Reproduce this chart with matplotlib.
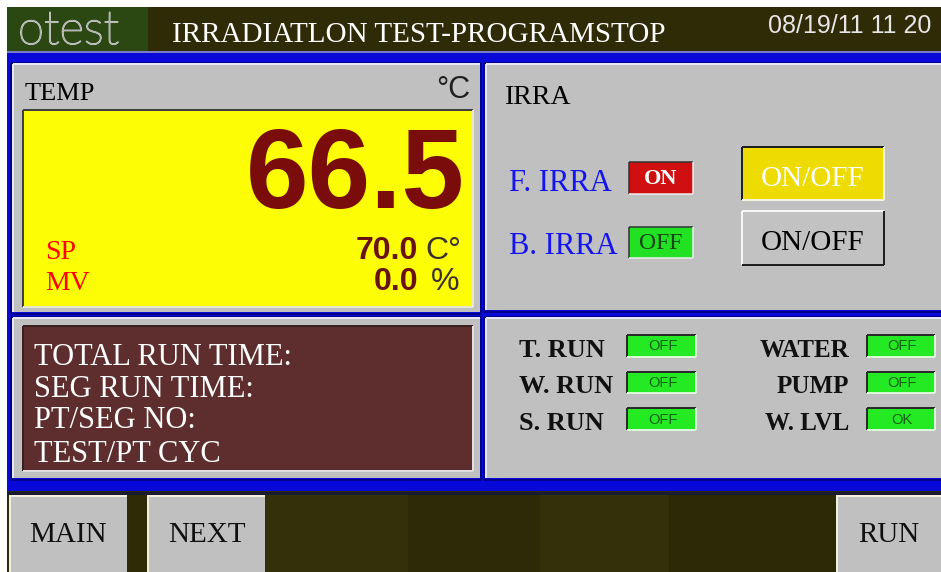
import matplotlib
matplotlib.use("Agg")
import matplotlib.pyplot as plt
from matplotlib.patches import Rectangle
import matplotlib.patheffects as pe

# ---------------- data ----------------
screen_title = "IRRADIATLON TEST-PROGRAMSTOP"
logo_text = "otest"
date_text = "08/19/11 11 20"
temp_label = "TEMP"
temp_unit = "°C"
temp_pv = 66.5
temp_sp = 70.0
temp_mv = 0.0
sp_mv_labels = ["SP", "MV"]
sp_mv_units = ["C°", "%"]
irra_title = "IRRA"
irra_labels = ["F. IRRA", "B. IRRA"]
irra_states = ["ON", "OFF"]
toggle_labels = ["ON/OFF", "ON/OFF"]
info_lines = ["TOTAL RUN TIME:", "SEG RUN TIME:", "PT/SEG NO:", "TEST/PT CYC"]
run_labels = ["T. RUN", "W. RUN", "S. RUN"]
run_states = ["OFF", "OFF", "OFF"]
aux_labels = ["WATER", "PUMP", "W. LVL"]
aux_states = ["OFF", "OFF", "OK"]
nav_buttons = ["MAIN", "NEXT", "RUN"]

# ---------------- styles ----------------
BLUE = "#0808d8"
NAVY = "#000070"
GREY = "#c0c0c0"
OLIVE = "#2f2b07"
SERIF = ["Liberation Serif", "DejaVu Serif"]
SANS = ["Liberation Sans", "DejaVu Sans"]

fig = plt.figure(figsize=(9.41, 5.72), dpi=100)
ax = fig.add_axes([0, 0, 1, 1])
ax.set_xlim(0, 941)
ax.set_ylim(572, 0)
ax.axis("off")


def rect(x0, y0, x1, y1, color, z=1):
    ax.add_patch(Rectangle((x0, y0), x1 - x0, y1 - y0, facecolor=color,
                           edgecolor="none", zorder=z))


def line(xs, ys, color, lw=1.0, z=3):
    ax.plot(xs, ys, color=color, lw=lw * 0.72, solid_capstyle="butt", zorder=z)


def bevel(x0, y0, x1, y1, tl, br, lw=1.5, z=3):
    line([x0, x1], [y0, y0], tl, lw, z)
    line([x0, x0], [y0, y1], tl, lw, z)
    line([x0, x1], [y1, y1], br, lw, z)
    line([x1, x1], [y0, y1], br, lw, z)


# background
rect(0, 0, 941, 572, "white", 0)
# header
rect(7, 7, 941, 51, OLIVE)
rect(7, 7, 148, 51, "#2b4812")
# blue frame
rect(7, 51, 941, 491, BLUE)
line([7, 941], [51.5, 51.5], "#a0a0c0", 1.5)
# bottom bar
rect(7, 491, 941, 572, OLIVE)
for (bx0, bx1, bc) in [(265, 408, "#34300a"), (408, 540, "#2d2a08"),
                       (540, 669, "#33300a"), (669, 837, "#2c2907")]:
    rect(bx0, 494, bx1, 572, bc, 1.5)
line([7, 941], [492.5, 492.5], "#1a1a30", 3)

# panels
panels = [(13, 64, 480, 312), (486, 64, 941, 310),
          (13, 318, 480, 478), (486, 318, 941, 478)]
for (x0, y0, x1, y1) in panels:
    rect(x0, y0, x1, y1, GREY, 2)
    line([x0, x1], [y0, y0], "#e6e6f4", 2)
    line([x0, x0], [y0, y1], "#e6e6f4", 2)
    bevel(x0 - 1.5, y0 - 1.5, x1 + 1.5, y1 + 1.5, NAVY, NAVY, 1.5, 2.5)

# ---- header text ----
ax.text(18, 44, logo_text, fontsize=34, color="#a0a0a0",
        family=["Lato", "DejaVu Sans"], weight="light",
        ha="left", va="baseline", zorder=5,
        path_effects=[pe.withStroke(linewidth=1.0, foreground="#c8c8c8")])
ax.text(172, 42, screen_title, fontsize=21, color="white", family=SERIF,
        ha="left", va="baseline", zorder=5)
ax.text(931, 33, date_text, fontsize=18, color="#e6e6e6", family=SANS,
        ha="right", va="baseline", zorder=5)

# ---- temperature panel ----
ax.text(25, 100, temp_label, fontsize=19, color="black", family=SERIF,
        ha="left", va="baseline", zorder=5)
ax.text(470, 98, temp_unit, fontsize=22, color="#202020", family=SANS,
        ha="right", va="baseline", zorder=5)
rect(23, 110, 473, 307, "#fdfd06", 3)
bevel(23, 110, 473, 307, "#404040", "#e8e8d0", 2, 4)
ax.text(465, 208, f"{temp_pv:.1f}", fontsize=81, color="#7a0c0c",
        family=SANS, weight="bold", ha="right", va="baseline", zorder=5)
for i, (lab, val, unit) in enumerate(zip(sp_mv_labels, [temp_sp, temp_mv], sp_mv_units)):
    yb = [259, 290][i]
    ax.text(45, yb, lab, fontsize=20, color="#ff0000", family=SERIF,
            ha="left", va="baseline", zorder=5)
    ax.text(418, yb, f"{val:.1f}", fontsize=23, color="#6a1212", family=SANS,
            weight="bold", ha="right", va="baseline", zorder=5)
    ax.text(425 if i == 0 else 431, yb, unit, fontsize=23, color="#3a3030",
            family=SANS, ha="left", va="baseline", zorder=5)

# ---- irradiation panel ----
ax.text(505, 104, irra_title, fontsize=20, color="black", family=SERIF,
        ha="left", va="baseline", zorder=5)
irra_fill = {"ON": "#d01010", "OFF": "#22e022"}
irra_txt = {"ON": "white", "OFF": "#174417"}
for i, (lab, st) in enumerate(zip(irra_labels, irra_states)):
    yb = [191, 254][i]
    ax.text(509, yb, lab, fontsize=22, color="#1414f0", family=SERIF,
            ha="left", va="baseline", zorder=5)
    y0, y1 = [(162, 194), (227, 258)][i]
    rect(629, y0, 693, y1, irra_fill[st], 3)
    bevel(629, y0, 693, y1, "#303030", "#f0f0f0", 1.5, 4)
    ax.text(661, (y0 + y1) / 2 + 1, st, fontsize=16 if st == "ON" else 17,
            color=irra_txt[st], family=SERIF,
            weight="bold" if st == "ON" else "normal",
            ha="center", va="center", zorder=5)

# toggle buttons
btn_styles = [("#eedc00", "white", "#202020", "#f4f4e0"),
              ("#c2c2c2", "black", "#f6f6f6", "#202020")]
for i, lab in enumerate(toggle_labels):
    y0, y1 = [(147, 200), (211, 265)][i]
    fill, tc, tl, br = btn_styles[i]
    rect(742, y0, 884, y1, fill, 3)
    bevel(742, y0, 884, y1, tl, br, 2, 4)
    ax.text(813, [186, 250][i], lab, fontsize=21, color=tc, family=SERIF,
            ha="center", va="baseline", zorder=5)

# ---- info box ----
rect(23, 326, 473, 471, "#5e2e2e", 3)
bevel(23, 326, 473, 471, "#3a2020", "#e0e0e0", 2, 4)
for i, txt in enumerate(info_lines):
    ax.text(34, [365, 397, 428, 462][i], txt, fontsize=22, color="white",
            family=SERIF, ha="left", va="baseline", zorder=5)

# ---- status panel ----
row_y = [(335, 357), (372, 393), (408, 430)]


def indicator(x0, x1, y0, y1, st):
    rect(x0, y0, x1, y1, "#24ea24", 3)
    bevel(x0, y0, x1, y1, "#2a2a2a", "#d8f8d8", 2, 4)
    ax.text((x0 + x1) / 2 + 1, (y0 + y1) / 2 + 0.5, st, fontsize=10.5,
            color="#146014", family=SANS, ha="center", va="center", zorder=5)


for i, (lab, st) in enumerate(zip(run_labels, run_states)):
    y0, y1 = row_y[i]
    ax.text(519, y1, lab, fontsize=19, color="#101010", family=SERIF,
            weight="bold", ha="left", va="baseline", zorder=5)
    indicator(627, 696, y0, y1, st)
for i, (lab, st) in enumerate(zip(aux_labels, aux_states)):
    y0, y1 = row_y[i]
    ax.text(849, y1, lab, fontsize=18, color="#101010", family=SERIF,
            weight="bold", ha="right", va="baseline", zorder=5)
    indicator(867, 935, y0, y1, st)

# ---- navigation buttons ----
nav_x = [(10, 127), (148, 265), (837, 941)]
for (x0, x1), lab in zip(nav_x, nav_buttons):
    rect(x0, 495, x1, 572, "#c0c0c0", 3)
    line([x0, x1], [495.5, 495.5], "#f0f0e0", 2, 4)
    line([x0 + 0.5, x0 + 0.5], [495, 572], "#f0f0e0", 2, 4)
    ax.text((x0 + x1) / 2, 535, lab, fontsize=21, color="#101010",
            family=SERIF, ha="center", va="center", zorder=5)

fig.savefig("out.png", dpi=100)
